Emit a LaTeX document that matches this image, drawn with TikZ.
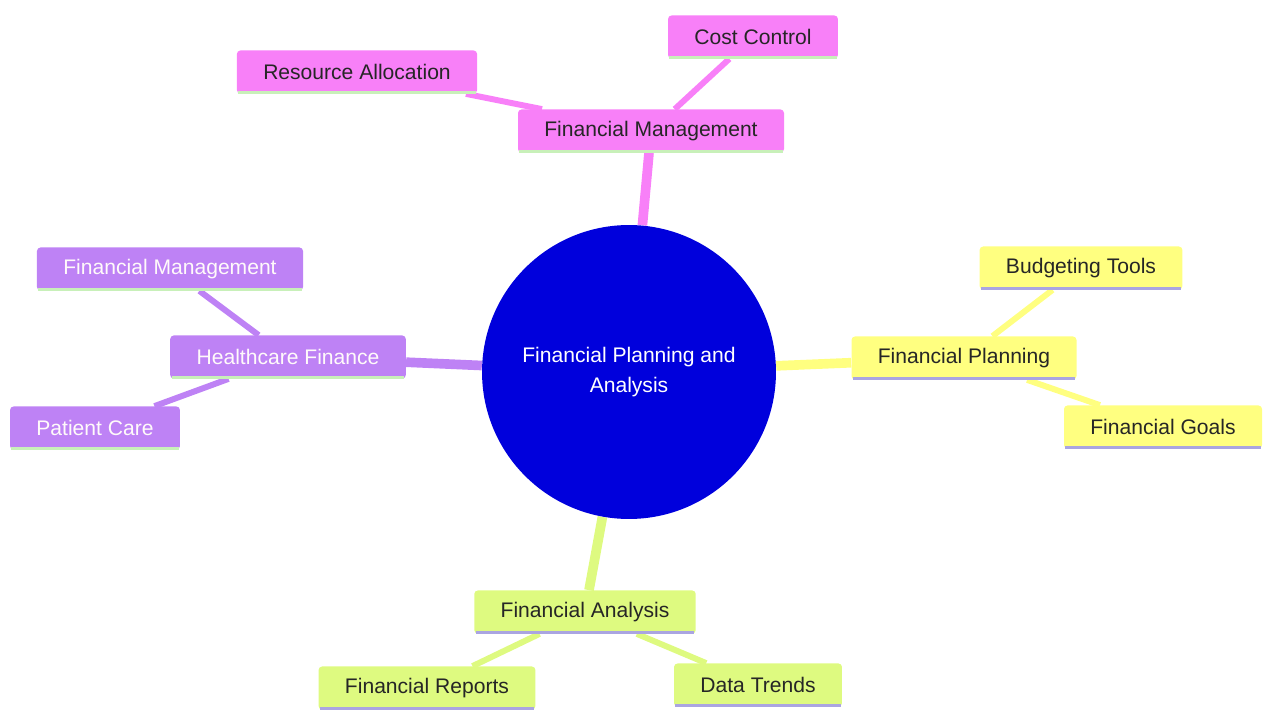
\documentclass[tikz,border=0pt]{standalone}
\usepackage{fontspec}
\setmainfont{Liberation Sans}
\usepackage{tikz}
\usetikzlibrary{backgrounds}
\definecolor{mgmt}{RGB}{248,128,248}
\definecolor{health}{RGB}{190,130,245}
\definecolor{plan}{RGB}{255,255,128}
\definecolor{anal}{RGB}{222,250,128}
\definecolor{core}{RGB}{0,0,220}
\definecolor{lgreen}{RGB}{200,240,185}
\definecolor{lav}{RGB}{170,165,225}

\begin{document}
\begin{tikzpicture}[x=0.02cm,y=-0.02cm,
    box/.style={rectangle,rounded corners=2pt,inner xsep=15pt,minimum height=24.5pt,
      font=\fontsize{12}{14}\selectfont},
    trunk/.style={line width=5.5pt},
    twig/.style={line width=3.4pt}]
  \useasboundingbox (0,0) rectangle (1264,713);
  % centre
  \node[circle,fill=core,text=white,minimum size=5.88cm,align=center,
        font=\fontsize{12}{17.5}\selectfont](root)at(629,372){Financial Planning and\\Analysis};
  % top branch
  \node[box,fill=mgmt,text=black!85](fm)at(651,131){Financial Management};
  \node[box,fill=mgmt,text=black!85](ra)at(357,72){Resource Allocation};
  \node[box,fill=mgmt,text=black!85](cc)at(753,37){Cost Control};
  % left branch
  \node[box,fill=health,text=white!92!pink](hf)at(288,357){Healthcare Finance};
  \node[box,fill=health,text=white!92!pink](hm)at(170,269){Financial Management};
  \node[box,fill=health,text=white!92!pink](pc)at(95,428){Patient Care};
  % right branch
  \node[box,fill=plan,text=black!85](fp)at(964,358){Financial Planning};
  \node[box,fill=plan,text=black!85](bt)at(1081,268){Budgeting Tools};
  \node[box,fill=plan,text=black!85](fg)at(1163,427){Financial Goals};
  % bottom branch
  \node[box,fill=anal,text=black!85](fa)at(585,612){Financial Analysis};
  \node[box,fill=anal,text=black!85](fr)at(427,688){Financial Reports};
  \node[box,fill=anal,text=black!85](dt)at(758,685){Data Trends};
  % underlines
  \foreach \n/\c in {fm/lgreen,ra/lgreen,cc/lgreen,hf/lgreen,hm/lgreen,pc/lgreen,
                     fp/lav,bt/lav,fg/lav,fa/lav,fr/lav,dt/lav}
    \draw[\c,line width=1.6pt]([xshift=1pt,yshift=0.8pt]\n.south west)--([xshift=-1pt,yshift=0.8pt]\n.south east);
  \begin{scope}[on background layer]
    \draw[trunk,mgmt](root)--(fm);
    \draw[trunk,health](root)--(hf);
    \draw[trunk,plan](root)--(fp);
    \draw[trunk,anal](root)--(fa);
    \draw[twig,mgmt](fm)--(ra);
    \draw[twig,mgmt](fm)--(cc);
    \draw[twig,health](hf)--(hm);
    \draw[twig,health](hf)--(pc);
    \draw[twig,plan](fp)--(bt);
    \draw[twig,plan](fp)--(fg);
    \draw[twig,anal](fa)--(fr);
    \draw[twig,anal](fa)--(dt);
  \end{scope}
\end{tikzpicture}
\end{document}
